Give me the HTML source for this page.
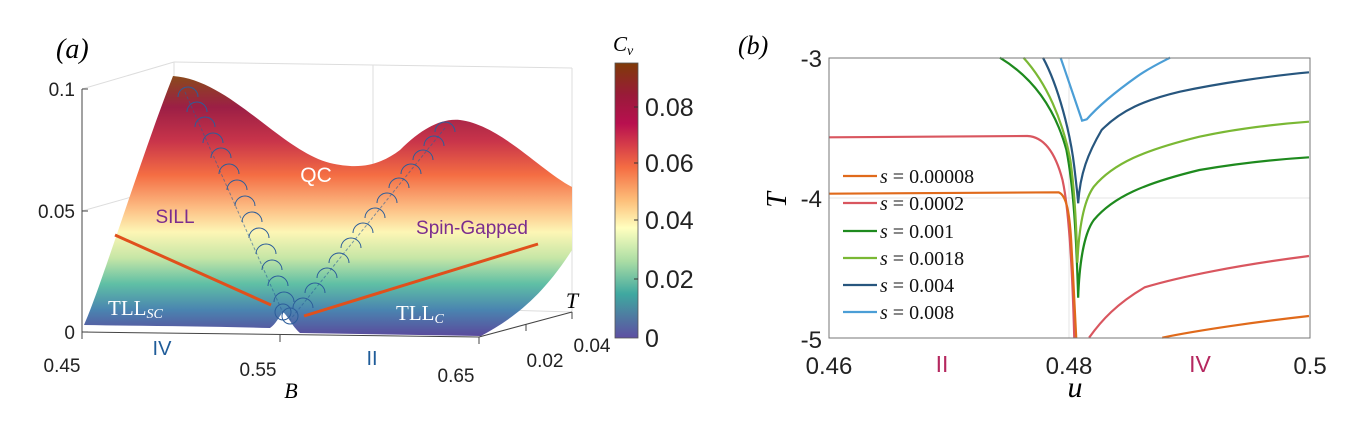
<!DOCTYPE html>
<html><head><meta charset="utf-8"><style>
html,body{margin:0;padding:0;background:#fff;}
svg{display:block;}
text{font-family:"Liberation Sans",sans-serif;}
.serif{font-family:"Liberation Serif",serif;font-style:italic;}
.rm{font-family:"Liberation Serif",serif;}
</style></head><body>
<svg width="1345" height="427" viewBox="0 0 1345 427" xmlns="http://www.w3.org/2000/svg">
<defs>
<linearGradient id="surf" x1="0" y1="76" x2="0" y2="336" gradientUnits="userSpaceOnUse">
<stop offset="0" stop-color="#8a4a1c"/>
<stop offset="0.12" stop-color="#9c1f45"/>
<stop offset="0.25" stop-color="#c8344a"/>
<stop offset="0.38" stop-color="#f46d43"/>
<stop offset="0.52" stop-color="#fdc58a"/>
<stop offset="0.6" stop-color="#fdf6b5"/>
<stop offset="0.7" stop-color="#c6e6a6"/>
<stop offset="0.8" stop-color="#5fbfa5"/>
<stop offset="0.9" stop-color="#4a84b0"/>
<stop offset="1" stop-color="#5a4a9c"/>
</linearGradient>
<linearGradient id="cbar" x1="0" y1="63" x2="0" y2="338" gradientUnits="userSpaceOnUse">
<stop offset="0" stop-color="#7f3b08"/>
<stop offset="0.12" stop-color="#9a1a3a"/>
<stop offset="0.22" stop-color="#b8104f"/>
<stop offset="0.38" stop-color="#f46d43"/>
<stop offset="0.5" stop-color="#fdbf7a"/>
<stop offset="0.6" stop-color="#ffffbf"/>
<stop offset="0.72" stop-color="#abdda4"/>
<stop offset="0.84" stop-color="#3fa8a0"/>
<stop offset="1" stop-color="#5e4fa2"/>
</linearGradient>
</defs>

<!-- Panel (a) -->
<text x="56" y="58" class="serif" font-size="28">(a)</text>
<g stroke="#ddd" stroke-width="1" fill="none">
<line x1="82" y1="89" x2="174" y2="62"/>
<line x1="82" y1="211" x2="174" y2="185"/>
<line x1="174" y1="62" x2="572" y2="68"/>
<line x1="174" y1="62" x2="174" y2="300"/>
<line x1="373" y1="65" x2="373" y2="310"/>
<line x1="572" y1="68" x2="572" y2="312"/>
<line x1="174" y1="300" x2="572" y2="312"/>
</g>
<path d="M84,325 C100,290 140,160 173,76 C230,80 280,150 330,163 C360,170 380,165 400,150 C420,130 440,118 460,120 C500,125 540,170 572,187 L572,250 C540,300 510,320 481,336 L300,333 C292,326 288,316 283,312 C278,318 276,324 270,328 C200,326 140,326 84,325 Z" fill="url(#surf)"/>
<g stroke="#444" stroke-width="1" fill="none">
<line x1="82" y1="89" x2="82" y2="332"/>
<line x1="82" y1="89" x2="88" y2="89"/><line x1="82" y1="211" x2="88" y2="211"/><line x1="82" y1="332" x2="88" y2="332"/>
<line x1="82" y1="332" x2="479" y2="337"/>
<line x1="82" y1="332" x2="82" y2="339"/><line x1="280" y1="335" x2="280" y2="342"/><line x1="479" y1="337" x2="479" y2="344"/>
<line x1="479" y1="337" x2="572" y2="312"/>
<line x1="526" y1="324" x2="526" y2="331"/><line x1="572" y1="312" x2="572" y2="319"/>
</g>
<g stroke="#e0501c" stroke-width="3" fill="none">
<line x1="115" y1="235" x2="271" y2="305"/>
<line x1="304" y1="316" x2="538" y2="244"/>
</g>
<g stroke="#2c5d9a" stroke-width="1" fill="none">
<path d="M185,92 L283,313" stroke-dasharray="3,2" stroke-opacity="0.6"/>
<path d="M445,128 L290,320" stroke-dasharray="3,2" stroke-opacity="0.6"/>
<path d="M178,97 a10,10 0 0 1 20,0 M187,112 a10,10 0 0 1 20,0 M195,127 a10,10 0 0 1 20,0 M203,143 a10,10 0 0 1 20,0 M211,158 a10,10 0 0 1 20,0 M219,174 a10,10 0 0 1 20,0 M227,190 a10,10 0 0 1 20,0 M235,206 a10,10 0 0 1 20,0 M242,222 a10,10 0 0 1 20,0 M249,238 a10,10 0 0 1 20,0 M256,254 a10,10 0 0 1 20,0 M262,270 a10,10 0 0 1 20,0 M268,286 a10,10 0 0 1 20,0 M274,302 a10,10 0 0 1 20,0"/>
<path d="M435,132 a10,10 0 0 1 20,0 M424,146 a10,10 0 0 1 20,0 M413,160 a10,10 0 0 1 20,0 M401,174 a10,10 0 0 1 20,0 M389,188 a10,10 0 0 1 20,0 M377,203 a10,10 0 0 1 20,0 M365,218 a10,10 0 0 1 20,0 M353,233 a10,10 0 0 1 20,0 M341,248 a10,10 0 0 1 20,0 M329,263 a10,10 0 0 1 20,0 M317,278 a10,10 0 0 1 20,0 M305,293 a10,10 0 0 1 20,0 M293,308 a10,10 0 0 1 20,0"/>
<circle cx="283" cy="312" r="8"/><circle cx="290" cy="316" r="8"/>
</g>
<text x="316" y="182" font-size="21" fill="#fff" text-anchor="middle">QC</text>
<text x="175" y="223" font-size="19" fill="#7b2d8e" text-anchor="middle">SILL</text>
<text x="472" y="234" font-size="19" fill="#7b2d8e" text-anchor="middle">Spin-Gapped</text>
<text x="108" y="315" font-size="21" fill="#fff" class="rm">TLL<tspan font-size="14" font-style="italic" dy="3">SC</tspan></text>
<text x="396" y="320" font-size="21" fill="#fff" class="rm">TLL<tspan font-size="14" font-style="italic" dy="3">C</tspan></text>
<g font-size="19" fill="#222">
<text x="75" y="96" text-anchor="end">0.1</text>
<text x="75" y="218" text-anchor="end">0.05</text>
<text x="75" y="339" text-anchor="end">0</text>
<text x="62" y="372" text-anchor="middle">0.45</text>
<text x="258" y="376" text-anchor="middle">0.55</text>
<text x="456" y="382" text-anchor="middle">0.65</text>
<text x="545" y="367" text-anchor="middle">0.02</text>
<text x="592" y="352" text-anchor="middle">0.04</text>
</g>
<text x="162" y="355" font-size="20" fill="#1f5c99" text-anchor="middle">IV</text>
<text x="372" y="365" font-size="20" fill="#1f5c99" text-anchor="middle">II</text>
<text x="291" y="398" class="serif" font-size="22" text-anchor="middle">B</text>
<text x="572" y="308" class="serif" font-size="22" text-anchor="middle">T</text>
<rect x="615" y="63" width="23" height="275" fill="url(#cbar)" stroke="#555" stroke-width="0.8"/>
<g stroke="#333" stroke-width="1"><line x1="634" y1="107" x2="638" y2="107"/><line x1="634" y1="163" x2="638" y2="163"/><line x1="634" y1="220" x2="638" y2="220"/><line x1="634" y1="279" x2="638" y2="279"/></g>
<g font-size="25" fill="#222">
<text x="645" y="116">0.08</text><text x="645" y="172">0.06</text><text x="645" y="229">0.04</text><text x="645" y="288">0.02</text><text x="645" y="347">0</text>
</g>
<text x="613" y="51" class="serif" font-size="21">C<tspan font-size="14" dy="4">v</tspan></text>

<!-- Panel (b) -->
<text x="738" y="54" class="serif" font-size="26">(b)</text>
<line x1="829" y1="198" x2="1310" y2="198" stroke="#e6e6e6"/>
<line x1="1069" y1="58" x2="1069" y2="338" stroke="#e6e6e6"/>
<g transform="translate(730,0) scale(0.3912,0.33333)" fill="none" stroke-width="2.2">
<path vector-effect="non-scaling-stroke" stroke="#d9565f" d="M253,412 L760,408 C800,410 830,450 850,540 C865,620 875,800 880,1013 M918,1013 C950,960 990,910 1060,862 C1150,830 1300,795 1480,768"/>
<path vector-effect="non-scaling-stroke" stroke="#e06a1b" d="M253,581 L840,577 C860,585 868,640 872,720 C877,820 880,900 885,1013 M1105,1013 C1200,990 1350,965 1480,948"/>
<path vector-effect="non-scaling-stroke" stroke="#1e8a1e" d="M690,173 C770,230 830,320 860,450 C878,560 885,700 890,893 C893,790 905,700 930,660 C980,590 1060,550 1200,510 C1300,490 1400,478 1480,472"/>
<path vector-effect="non-scaling-stroke" stroke="#7ab834" d="M750,173 C810,250 850,360 870,480 C882,580 886,700 888,788 C892,680 905,600 930,560 C980,490 1060,450 1200,410 C1300,385 1400,372 1480,365"/>
<path vector-effect="non-scaling-stroke" stroke="#27567e" d="M800,173 C840,260 870,400 880,500 C886,560 889,590 890,610 C895,520 915,460 950,390 C1000,330 1060,300 1150,275 C1250,250 1380,228 1480,217"/>
<path vector-effect="non-scaling-stroke" stroke="#4b9ed6" d="M845,173 C865,240 885,310 900,362 L912,358 C940,320 980,280 1040,230 C1070,205 1100,188 1125,173"/>
</g>
<rect x="829" y="58" width="481" height="280" fill="none" stroke="#777" stroke-width="1"/>
<g stroke-width="2.2">
<line x1="843" y1="176" x2="877" y2="176" stroke="#e06a1b"/>
<line x1="843" y1="203" x2="877" y2="203" stroke="#d9565f"/>
<line x1="843" y1="231" x2="877" y2="231" stroke="#1e8a1e"/>
<line x1="843" y1="258" x2="877" y2="258" stroke="#7ab834"/>
<line x1="843" y1="285" x2="877" y2="285" stroke="#27567e"/>
<line x1="843" y1="312" x2="877" y2="312" stroke="#4b9ed6"/>
</g>
<g font-size="20" class="rm" fill="#111">
<text x="880" y="183" class="rm"><tspan font-style="italic">s</tspan> = 0.00008</text>
<text x="880" y="210" class="rm"><tspan font-style="italic">s</tspan> = 0.0002</text>
<text x="880" y="238" class="rm"><tspan font-style="italic">s</tspan> = 0.001</text>
<text x="880" y="265" class="rm"><tspan font-style="italic">s</tspan> = 0.0018</text>
<text x="880" y="292" class="rm"><tspan font-style="italic">s</tspan> = 0.004</text>
<text x="880" y="319" class="rm"><tspan font-style="italic">s</tspan> = 0.008</text>
</g>
<g font-size="24" fill="#222">
<text x="822" y="67" text-anchor="end">-3</text>
<text x="822" y="207" text-anchor="end">-4</text>
<text x="822" y="348" text-anchor="end">-5</text>
<text x="829" y="374" text-anchor="middle">0.46</text>
<text x="1069" y="374" text-anchor="middle">0.48</text>
<text x="1310" y="374" text-anchor="middle">0.5</text>
</g>
<text x="942" y="372" font-size="23" fill="#b5285f" text-anchor="middle">II</text>
<text x="1200" y="372" font-size="23" fill="#b5285f" text-anchor="middle">IV</text>
<text x="1075" y="397" class="serif" font-size="30" text-anchor="middle">u</text>
<text x="0" y="0" class="serif" font-size="28" transform="translate(786,200) rotate(-90)" text-anchor="middle">T</text>
</svg>
</body></html>
